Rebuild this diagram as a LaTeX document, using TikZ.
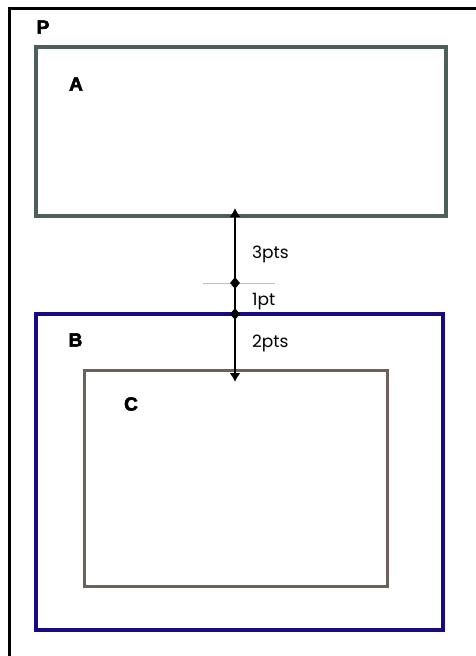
\documentclass[tikz,border=0pt]{standalone}
\usepackage{fontspec}
\setmainfont{Liberation Sans}
\newfontfamily\tagfont[BoldFeatures={FakeBold=3}]{Liberation Sans}
\newfontfamily\gapfont{Poppins}
\usetikzlibrary{shapes.geometric,arrows.meta}
\definecolor{boxA}{RGB}{74,96,88}
\definecolor{boxB}{RGB}{24,10,130}
\definecolor{boxC}{RGB}{110,96,88}

\begin{document}
\begin{tikzpicture}[x=1pt,y=-1pt,
  frame/.style={line width=3.4pt},
  tag/.style={font=\tagfont\bfseries\fontsize{19}{19}\selectfont,inner sep=0},
  gaptext/.style={font=\gapfont\fontsize{17}{17}\selectfont,anchor=base west,inner sep=0},
  knot/.style={diamond,fill=black,inner sep=0,minimum width=10pt,minimum height=12pt}]
\useasboundingbox (0,0) rectangle (476,656);
% page and boxes
\draw[frame] (9.5,8.5) rectangle (520,720);
\draw[frame,color=boxA] (36,47) rectangle (446,216);
\draw[frame,color=boxB] (36,314) rectangle (443,630);
\draw[frame,line width=3pt,color=boxC] (84,370) rectangle (387,586);
\node[tag] (P) at (43,27) {P};
\node[tag] (A) at (76,84) {A};
\node[tag] (B) at (75.5,340) {B};
\node[tag] (C) at (131,404) {C};
% thin guide line
\coordinate (g1) at (203,283);
\coordinate (g2) at (275,283);
\draw[gray!50,line width=0.8pt] (g1) -- (g2);
% dimension line
\coordinate (top) at (235,208);
\coordinate (bot) at (235,382);
\node[knot] (k1) at (235,283) {};
\node[knot] (k2) at (235,314) {};
\draw[line width=1.8pt,{Latex[length=9pt,width=11pt]}-{Latex[length=9pt,width=11pt]}] (top) -- (bot);
\node[gaptext] at (252,258) {3pts};
\node[gaptext] at (252,305) {1pt};
\node[gaptext] at (252,347) {2pts};
\end{tikzpicture}
\end{document}
